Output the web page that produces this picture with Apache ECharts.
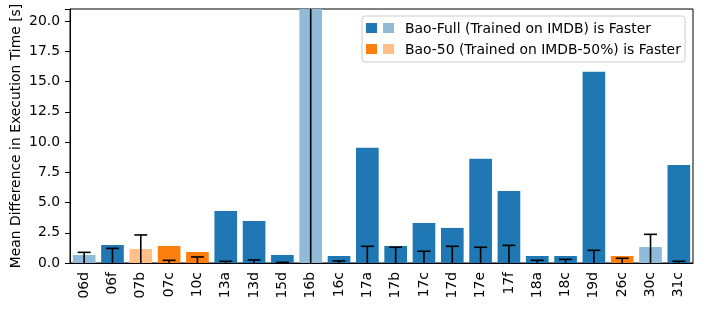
<!DOCTYPE html>
<html>
<head>
<meta charset="utf-8">
<script src="https://cdn.jsdelivr.net/npm/echarts@6/dist/echarts.min.js"></script>
<style>html,body{margin:0;padding:0;background:#fff}#c{width:703px;height:309px}</style>
</head>
<body>
<div id="c"></div>
<script>
const categories = ['06d','06f','07b','07c','10c','13a','13d','15d','16b','16c','17a','17b','17c','17d','17e','17f','18a','18c','19d','26c','30c','31c'];
const meanDiff = [0.66,1.49,1.16,1.41,0.91,4.30,3.48,0.66,26,0.58,9.52,1.41,3.31,2.90,8.61,5.96,0.58,0.58,15.81,0.58,1.32,8.11];
const errTop = [0.88,1.21,2.32,0.22,0.50,0.14,0.25,0.05,26,0.17,1.38,1.30,0.97,1.38,1.30,1.46,0.22,0.30,1.05,0.39,2.37,0.14];
// winner: 'full' = Bao-Full faster, '50' = Bao-50 faster; significant: true = dark colour
const winner = ['full','full','50','50','50','full','full','full','full','full','full','full','full','full','full','full','full','full','full','50','full','full'];
const significant = [false,true,false,true,true,true,true,true,false,true,true,true,true,true,true,true,true,true,true,true,false,true];
const legendLabels = ['Bao-Full (Trained on IMDB) is Faster','Bao-50 (Trained on IMDB-50%) is Faster'];
const yTicks = [0,2.5,5,7.5,10,12.5,15,17.5,20];

const colors = {full:['#8fbbd9','#1f77b4'], '50':['#ffbf86','#ff7f0e']};
const FONT = 'DejaVu Sans';
const FS = 13.9;
const chart = echarts.init(document.getElementById('c'), null, {renderer:'canvas'});

const barData = meanDiff.map((v,i)=>({value:v,itemStyle:{color:colors[winner[i]][significant[i]?1:0]}}));

chart.setOption({
  animation:false,
  grid:{left:70,right:10,top:9,bottom:46,show:true,borderColor:'#000',borderWidth:1,backgroundColor:'transparent',containLabel:false,outerBoundsMode:'none'},
  xAxis:{type:'category',data:categories,
    axisLine:{lineStyle:{color:'#000',width:1}},
    axisTick:{alignWithLabel:true,length:5,lineStyle:{color:'#000'}},
    axisLabel:{rotate:90,color:'#000',fontFamily:FONT,fontSize:FS,margin:9,interval:0}},
  yAxis:{type:'value',min:0,max:21,interval:2.5,
    name:'Mean Difference in Execution Time [s]',nameLocation:'middle',nameGap:47,nameMoveOverlap:false,
    nameTextStyle:{color:'#000',fontFamily:FONT,fontSize:FS},
    axisLine:{show:true,lineStyle:{color:'#000',width:1}},
    axisTick:{show:true,length:5,lineStyle:{color:'#000'}},
    splitLine:{show:false},
    axisLabel:{color:'#000',fontFamily:FONT,fontSize:FS,margin:10,
      formatter:v=>yTicks.includes(v)?v.toFixed(1):''}},
  series:[
    {type:'bar',data:barData,barCategoryGap:'20%',clip:true},
    {type:'custom',data:errTop.map((e,i)=>[i,e]),z:10,
      renderItem:(params,api)=>{
        const x=api.value(0), e=api.value(1);
        const p0=api.coord([x,0]); const p1=api.coord([x,e]);
        const top=Math.max(p1[1],params.coordSys.y);
        const ch=[{type:'line',shape:{x1:p0[0],y1:p0[1],x2:p0[0],y2:top},style:{stroke:'#000',lineWidth:1.6}}];
        if(p1[1]>=params.coordSys.y){
          ch.push({type:'line',shape:{x1:p0[0]-6.5,y1:p1[1],x2:p0[0]+6.5,y2:p1[1]},style:{stroke:'#000',lineWidth:1.6}});
        }
        return {type:'group',children:ch};
      }}
  ],
  graphic:[
    {type:'rect',x:362,y:16,shape:{x:0,y:0,width:323,height:46,r:3},style:{fill:'rgba(255,255,255,0.8)',stroke:'#cccccc',lineWidth:1},z:100},
    {type:'rect',x:366,y:23,shape:{x:0,y:0,width:11,height:10},style:{fill:colors.full[1]},z:101},
    {type:'rect',x:383,y:23,shape:{x:0,y:0,width:11,height:10},style:{fill:colors.full[0]},z:101},
    {type:'rect',x:366,y:44,shape:{x:0,y:0,width:11,height:10},style:{fill:colors['50'][1]},z:101},
    {type:'rect',x:383,y:44,shape:{x:0,y:0,width:11,height:10},style:{fill:colors['50'][0]},z:101},
    {type:'text',x:405,y:29,style:{text:legendLabels[0],font:FS+'px "DejaVu Sans"',fill:'#000',verticalAlign:'middle',align:'left'},z:101},
    {type:'text',x:405,y:50,style:{text:legendLabels[1],font:FS+'px "DejaVu Sans"',fill:'#000',verticalAlign:'middle',align:'left'},z:101}
  ]
});
</script>
</body>
</html>
